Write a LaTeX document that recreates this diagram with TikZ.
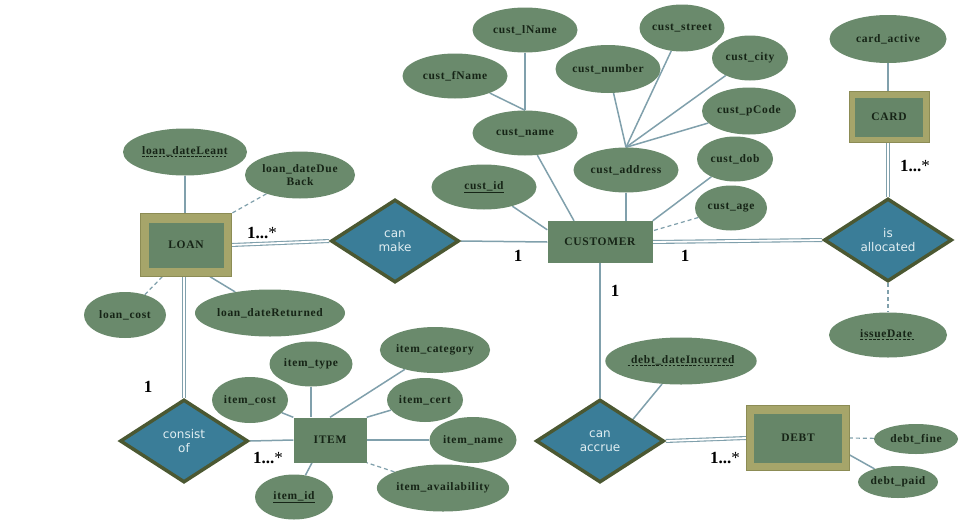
\documentclass[tikz,border=0pt]{standalone}
\usepackage{fontspec}
\setmainfont{Liberation Serif}
\newfontfamily\attrfont[LetterSpace=6]{Liberation Serif}
\newfontfamily\relfont{DejaVu Sans}
\usetikzlibrary{shapes.geometric,backgrounds}
\definecolor{ellfill}{RGB}{106,138,108}
\definecolor{entfill}{RGB}{102,134,104}
\definecolor{khaki}{RGB}{166,165,106}
\definecolor{khakidark}{RGB}{140,140,85}
\definecolor{relfill}{RGB}{58,125,152}
\definecolor{relborder}{RGB}{75,88,50}
\definecolor{reltext}{RGB}{225,238,242}
\definecolor{linec}{RGB}{128,160,172}
\definecolor{txt}{RGB}{22,36,22}
\newcommand{\dashul}[1]{\setbox0=\hbox{#1}\rlap{\raisebox{-2.8pt}{\hbox to \wd0{\xleaders\hbox{\vrule width 2.6pt height 0.9pt\hskip 1.4pt}\hfill}}}\box0}
\newcommand{\solidul}[1]{\setbox0=\hbox{#1}\rlap{\raisebox{-2.8pt}{\vrule width \wd0 height 0.8pt}}\box0}
\tikzset{
  attr/.style={ellipse, fill=ellfill, inner sep=0pt, text=txt, align=center,
    font={\attrfont\bfseries\fontsize{11.5pt}{12.5pt}\selectfont}},
  ent/.style={rectangle, fill=entfill, inner sep=0pt, text=txt,
    font={\attrfont\bfseries\fontsize{11.5pt}{12.5pt}\selectfont}},
  weakout/.style={rectangle, fill=khaki, draw=khakidark, line width=0.4pt, inner sep=0pt},
  weakin/.style={rectangle, fill=entfill, inner sep=0pt, text=txt,
    font={\attrfont\bfseries\fontsize{11.5pt}{12.5pt}\selectfont}},
  rel/.style={diamond, fill=relfill, draw=relborder, line width=3.5pt, inner sep=0pt,
    minimum width=128pt, minimum height=83pt, text=reltext, align=center,
    font={\relfont\fontsize{12pt}{14pt}\selectfont}},
  link/.style={draw=linec, line width=1.5pt},
  dashlink/.style={draw=linec, line width=1.2pt, dash pattern=on 4pt off 3pt},
  dlink/.style={draw=linec, line width=1.1pt, double=white, double distance=1.8pt},
  cardlbl/.style={text=black, inner sep=0pt, font={\bfseries\fontsize{17pt}{19pt}\selectfont}}
}
\newcommand{\card}{1...{\mdseries *}}
\begin{document}
\begin{tikzpicture}[x=1pt,y=-1pt]
\useasboundingbox (0,0) rectangle (961,525);

% customer cluster
\node[attr, minimum width=105pt, minimum height=45pt] (clname) at (525,30) {cust\_lName};
\node[attr, minimum width=105pt, minimum height=45pt] (cfname) at (455,76) {cust\_fName};
\node[attr, minimum width=105pt, minimum height=45pt] (cname) at (525,133) {cust\_name};
\node[attr, minimum width=105pt, minimum height=48pt] (cnum) at (608,69) {cust\_number};
\node[attr, minimum width=85pt, minimum height=47pt] (cstreet) at (682,28) {cust\_street};
\node[attr, minimum width=76pt, minimum height=45pt] (ccity) at (750,58) {cust\_city};
\node[attr, minimum width=94pt, minimum height=47pt] (cpcode) at (749,111) {cust\_pCode};
\node[attr, minimum width=76pt, minimum height=45pt] (cdob) at (735,159) {cust\_dob};
\node[attr, minimum width=72pt, minimum height=45pt] (cage) at (731,208) {cust\_age};
\node[attr, minimum width=105pt, minimum height=45pt] (caddr) at (626,170) {cust\_address};
\node[attr, minimum width=105pt, minimum height=45pt] (cid) at (484,187) {\solidul{cust\_id}};
\node[ent, minimum width=105pt, minimum height=42pt] (cust) at (600,242) {CUSTOMER};

% relationships
\node[rel] (make) at (395,241) {can\\make};
\node[rel] (consist) at (184,441) {consist\\of};
\node[rel] (accrue) at (600,441) {can\\accrue};
\node[rel] (isal) at (888,240) {is\\allocated};

% loan
\node[weakout, minimum width=91pt, minimum height=63pt] (loan) at (186,245) {};
\node[weakin, minimum width=75pt, minimum height=45pt] (loanin) at (loan) {LOAN};
\node[attr, minimum width=124pt, minimum height=47pt] (leant) at (185,152) {\dashul{loan\_dateLeant}};
\node[attr, minimum width=110pt, minimum height=47pt] (ldue) at (300,175) {loan\_dateDue\\Back};
\node[attr, minimum width=82pt, minimum height=46pt] (lcost) at (125,315) {loan\_cost};
\node[attr, minimum width=150pt, minimum height=47pt] (lret) at (270,313) {loan\_dateReturned};

% item
\node[ent, minimum width=73pt, minimum height=45pt] (item) at (330,440) {ITEM};
\node[attr, minimum width=83pt, minimum height=45pt] (itype) at (311,364) {item\_type};
\node[attr, minimum width=76pt, minimum height=46pt] (icost) at (250,400) {item\_cost};
\node[attr, minimum width=110pt, minimum height=46pt] (icat) at (435,350) {item\_category};
\node[attr, minimum width=76pt, minimum height=44pt] (icert) at (425,400) {item\_cert};
\node[attr, minimum width=87pt, minimum height=46pt] (iname) at (473,440) {item\_name};
\node[attr, minimum width=131pt, minimum height=47pt] (iavail) at (443,488) {item\_availability};
\node[attr, minimum width=78pt, minimum height=45pt] (iid) at (294,497) {\solidul{item\_id}};

% debt
\node[weakout, minimum width=103pt, minimum height=65pt] (debt) at (798,438) {};
\node[weakin, minimum width=88pt, minimum height=49pt] (debtin) at (debt) {DEBT};
\node[attr, minimum width=148pt, minimum height=47pt] (dinc) at (681,361) {\dashul{\ debt\_dateIncurred}};
\node[attr, minimum width=84pt, minimum height=30pt] (dfine) at (916,439) {debt\_fine};
\node[attr, minimum width=80pt, minimum height=32pt] (dpaid) at (898,482) {debt\_paid};

% card
\node[attr, minimum width=117pt, minimum height=48pt] (cactive) at (888,39) {card\_active};
\node[weakout, minimum width=80pt, minimum height=51pt] (card) at (889,117) {};
\node[weakin, minimum width=68pt, minimum height=39pt] (cardin) at (card) {CARD};
\node[attr, minimum width=118pt, minimum height=45pt] (issue) at (888,335) {\dashul{issueDate\ }};

% cardinality labels
\node[cardlbl] (l1) at (262,233) {\card};
\node[cardlbl] (l2) at (518,256) {1};
\node[cardlbl] (l3) at (685,256) {1};
\node[cardlbl] (l4) at (615,291) {1};
\node[cardlbl] (l5) at (915,166) {\card};
\node[cardlbl] (l6) at (148,387) {1};
\node[cardlbl] (l7) at (268,458) {\card};
\node[cardlbl] (l8) at (725,458) {\card};

\begin{scope}[on background layer]
\fill[white] (0,0) rectangle (961,525);
% customer links
\draw[link] (cfname) -- (cname.north);
\draw[link] (clname) -- (cname.north);
\draw[link] (cname) -- ([xshift=-26pt]cust.north);
\draw[link] (cid) -- ([yshift=-9pt]cust.north west);
\draw[link] (caddr) -- (caddr |- cust.north);
\draw[link] (caddr.north) -- (cnum);
\draw[link] (caddr.north) -- (cstreet);
\draw[link] (caddr.north) -- (ccity);
\draw[link] (caddr.north) -- (cpcode);
\draw[link] (cdob) -- (cust.north east);
\draw[dashlink] (cage) -- ([yshift=-10pt]cust.north east);
\draw[link] (make.east) -- (cust.west);
\draw[dlink] (cust.east) -- (isal.west);
\draw[link] (cust.south) -- (accrue.north);
% loan links
\draw[dlink] (loan.east) -- (make.west);
\draw[link] (leant) -- (leant |- loan.north);
\draw[dashlink] (ldue) -- (loan.north east);
\draw[dashlink] (lcost) -- ([xshift=22pt]loan.south west);
\draw[link] (lret) -- ([xshift=24pt]loan.south);
\draw[dlink] ([xshift=-2pt]loan.south) -- (consist.north);
% item links
\draw[link] (consist.east) -- (item.west);
\draw[link] (itype) -- (itype |- item.north);
\draw[link] (icost) -- (item.north west);
\draw[link] (icat) -- (item.north);
\draw[link] (icert) -- (item.north east);
\draw[link] (iname) -- (item.east);
\draw[dashlink] (iavail) -- (item.south east);
\draw[link] (iid) -- ([xshift=-18pt]item.south);
% debt links
\draw[dlink] (accrue.east) -- (debt.west);
\draw[link] (dinc) -- (accrue.north east);
\draw[dashlink] (dfine) -- (debt.east);
\draw[link] (dpaid) -- ([yshift=-17pt]debt.east);
% card links
\draw[link] (cactive) -- (cactive |- card.north);
\draw[dlink] (card.south -| isal.north) -- (isal.north);
\draw[dashlink] (isal.south) -- (issue.north);
\end{scope}
\end{tikzpicture}
\end{document}
